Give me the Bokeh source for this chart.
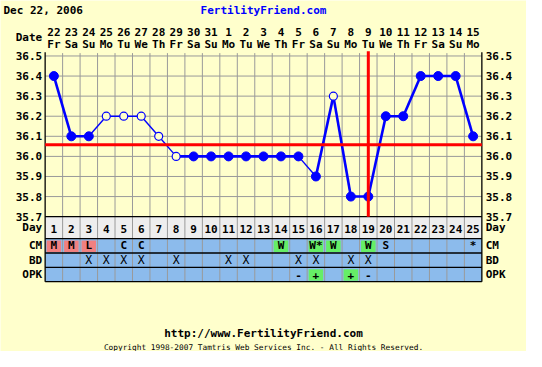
from bokeh.plotting import figure
from bokeh.models import Range1d
from bokeh.core.properties import value
from bokeh.embed import file_html
from bokeh.resources import INLINE

# ---------------- data ----------------
chart_date = "Dec 22, 2006"
site_name = "FertilityFriend.com"
footer_url = "http://www.FertilityFriend.com"
footer_copy = "Copyright 1998-2007 Tamtris Web Services Inc. - All Rights Reserved."

days = list(range(1, 26))
dates = ["22", "23", "24", "25", "26", "27", "28", "29", "30", "31", "1", "2", "3",
         "4", "5", "6", "7", "8", "9", "10", "11", "12", "13", "14", "15"]
weekdays = ["Fr", "Sa", "Su", "Mo", "Tu", "We", "Th", "Fr", "Sa", "Su", "Mo", "Tu", "We",
            "Th", "Fr", "Sa", "Su", "Mo", "Tu", "We", "Th", "Fr", "Sa", "Su", "Mo"]
temps = [36.4, 36.1, 36.1, 36.2, 36.2, 36.2, 36.1, 36.0, 36.0, 36.0, 36.0, 36.0, 36.0,
         36.0, 36.0, 35.9, 36.3, 35.8, 35.8, 36.2, 36.2, 36.4, 36.4, 36.4, 36.1]
open_days = [4, 5, 6, 7, 8, 17]           # hollow (discarded) temperatures
thin_from = [3, 4, 5, 6, 7, 15]           # segments drawn with thin line (start day)
coverline = 36.058
ovulation_day = 19
temp_ticks = [36.5, 36.4, 36.3, 36.2, 36.1, 36.0, 35.9, 35.8, 35.7]
temp_tick_labels = ["36.5", "36.4", "36.3", "36.2", "36.1", "36.0", "35.9", "35.8", "35.7"]

row_names = ["Day", "CM", "BD", "OPK"]
cm_days = [1, 2, 3, 5, 6, 14, 16, 17, 19, 20, 25]
cm_text = ["M", "M", "L", "C", "C", "W", "W*", "W", "W", "S", "*"]
cm_kind = ["period", "period", "period", "", "", "fertile", "fertile", "fertile", "fertile", "", ""]
bd_days = [3, 4, 5, 6, 8, 11, 12, 15, 16, 18, 19]
opk_days = [15, 16, 18, 19]
opk_text = ["-", "+", "+", "-"]
opk_kind = ["", "fertile", "fertile", ""]

# ---------------- style ----------------
BG = "#FFFFCC"
GRID = "#9A9A9A"
BLUE = "#0000FF"
RED = "#FF0000"
ROWBLUE = "#8CBBEC"
DAYROW = "#EEEEEE"
KIND_COLOR = {"period": "#F08080", "fertile": "#66EE66"}
FONT = value("DejaVu Sans Mono")
FS = "11px"

# layout in reference pixels (542 x 367)
X0_PX, COL_PX = 46, 18
TOP_PX, PX_PER_DEG = 58, 210.0
W_REF, H_REF = 542, 367

def day_at(px):
    return (px - X0_PX) / COL_PX + 0.5

t_top = temp_ticks[0] + TOP_PX / PX_PER_DEG
t_bot = temp_ticks[0] - (H_REF - TOP_PX) / PX_PER_DEG

p = figure(width=526, height=351, output_backend="svg", toolbar_location=None,
           x_range=Range1d(day_at(0), day_at(W_REF)), y_range=Range1d(t_bot, t_top),
           x_axis_type=None, y_axis_type=None, min_border=0,
           background_fill_color=BG, border_fill_color=BG, outline_line_color=None)
p.extra_y_ranges = {"px": Range1d(H_REF, 0)}
p.extra_x_ranges = {"px": Range1d(0, W_REF)}
p.xgrid.visible = False
p.ygrid.visible = False

n = len(days)
xl, xr = 0.5, n + 0.5
row_edges = [226, 249, 264, 279, 294]
row_mid = [(row_edges[i] + row_edges[i + 1]) / 2 for i in range(4)]

# table backgrounds
p.quad(left=xl, right=xr, top=row_edges[0], bottom=row_edges[1], y_range_name="px",
       fill_color=DAYROW, line_color=None)
p.quad(left=xl, right=xr, top=row_edges[1], bottom=row_edges[4], y_range_name="px",
       fill_color=ROWBLUE, line_color=None)

# coloured cells
def cells(ds, kinds, r):
    sel = [(d, k) for d, k in zip(ds, kinds) if k]
    p.quad(left=[d - 0.5 + 1.5 / COL_PX for d, _ in sel],
           right=[d + 0.5 - 1.5 / COL_PX for d, _ in sel],
           top=row_edges[r] + 2, bottom=row_edges[r + 1] - 1, y_range_name="px",
           fill_color=[KIND_COLOR[k] for _, k in sel], line_color=None)

cells(cm_days, cm_kind, 1)
cells(opk_days, opk_kind, 3)

# grid
p.segment(x0=xl, x1=xr, y0=temp_ticks[:-1], y1=temp_ticks[:-1], line_color=GRID, line_width=1)
vx = [d + 0.5 for d in days[:-1]]
p.segment(x0=vx, x1=vx, y0=55, y1=row_edges[-1], y_range_name="px", line_color=GRID, line_width=1)
p.segment(x0=xl, x1=xr, y0=row_edges, y1=row_edges, y_range_name="px", line_color="black", line_width=1.3)
p.segment(x0=[xl, xr], x1=[xl, xr], y0=54, y1=row_edges[-1], y_range_name="px",
          line_color="black", line_width=1.3)

# temperature line
thick = [i for i in range(n - 1) if days[i] not in thin_from]
thin = [i for i in range(n - 1) if days[i] in thin_from]
for idx, lw in ((thick, 2.6), (thin, 1.4)):
    p.segment(x0=[days[i] for i in idx], y0=[temps[i] for i in idx],
              x1=[days[i + 1] for i in idx], y1=[temps[i + 1] for i in idx],
              line_color=BLUE, line_width=lw)
fx = [d for d in days if d not in open_days]
fy = [t for d, t in zip(days, temps) if d not in open_days]
ox = [d for d in days if d in open_days]
oy = [t for d, t in zip(days, temps) if d in open_days]
p.scatter(fx, fy, size=9, fill_color=BLUE, line_color=BLUE)
p.scatter(ox, oy, size=8, fill_color=BG, line_color=BLUE, line_width=1.2)

# red lines
p.segment(x0=xl, x1=xr, y0=coverline, y1=coverline, line_color=RED, line_width=3)
p.segment(x0=ovulation_day, x1=ovulation_day, y0=53, y1=row_edges[0], y_range_name="px",
          line_color=RED, line_width=3)

# texts
def txt(x, y, t, align="center", color="black", size=FS, style="bold", xr_name=None):
    kw = dict(y_range_name="px")
    if xr_name:
        kw["x_range_name"] = xr_name
    p.text(x=x, y=y, text=t, text_font=FONT, text_font_size=size, text_font_style=style,
           text_align=align, text_baseline="middle", text_color=color, **kw)

txt([3], [10], [chart_date], align="left", xr_name="px")
txt([W_REF / 2], [10], [site_name], color=BLUE, xr_name="px")
txt(days, [33] * n, dates)
txt(days, [46] * n, weekdays)
txt([day_at(43)], [39], ["Date"], align="right")

lab_l = day_at(43)
lab_r = day_at(500)
p.text(x=[lab_l] * len(temp_ticks), y=temp_ticks, text=temp_tick_labels, text_font=FONT,
       text_font_size=FS, text_font_style="bold", text_align="right", text_baseline="middle")
p.text(x=[lab_r] * len(temp_ticks), y=temp_ticks, text=temp_tick_labels, text_font=FONT,
       text_font_size=FS, text_font_style="bold", text_align="left", text_baseline="middle")

txt([lab_l] * 4, row_mid, row_names, align="right")
txt([lab_r] * 4, row_mid, row_names, align="left")
txt(days, [row_mid[0] + 1] * n, [str(d) for d in days])
txt(cm_days, [row_mid[1]] * len(cm_days), cm_text)
txt(bd_days, [row_mid[2]] * len(bd_days), ["X"] * len(bd_days), size="11.5px", style="normal")
txt(opk_days, [row_mid[3]] * len(opk_days), opk_text)

txt([W_REF / 2], [348], [footer_url], xr_name="px")
txt([W_REF / 2], [363], [footer_copy], size="7.8px", style="normal", xr_name="px")

open("out.html", "w").write(file_html(p, INLINE))
